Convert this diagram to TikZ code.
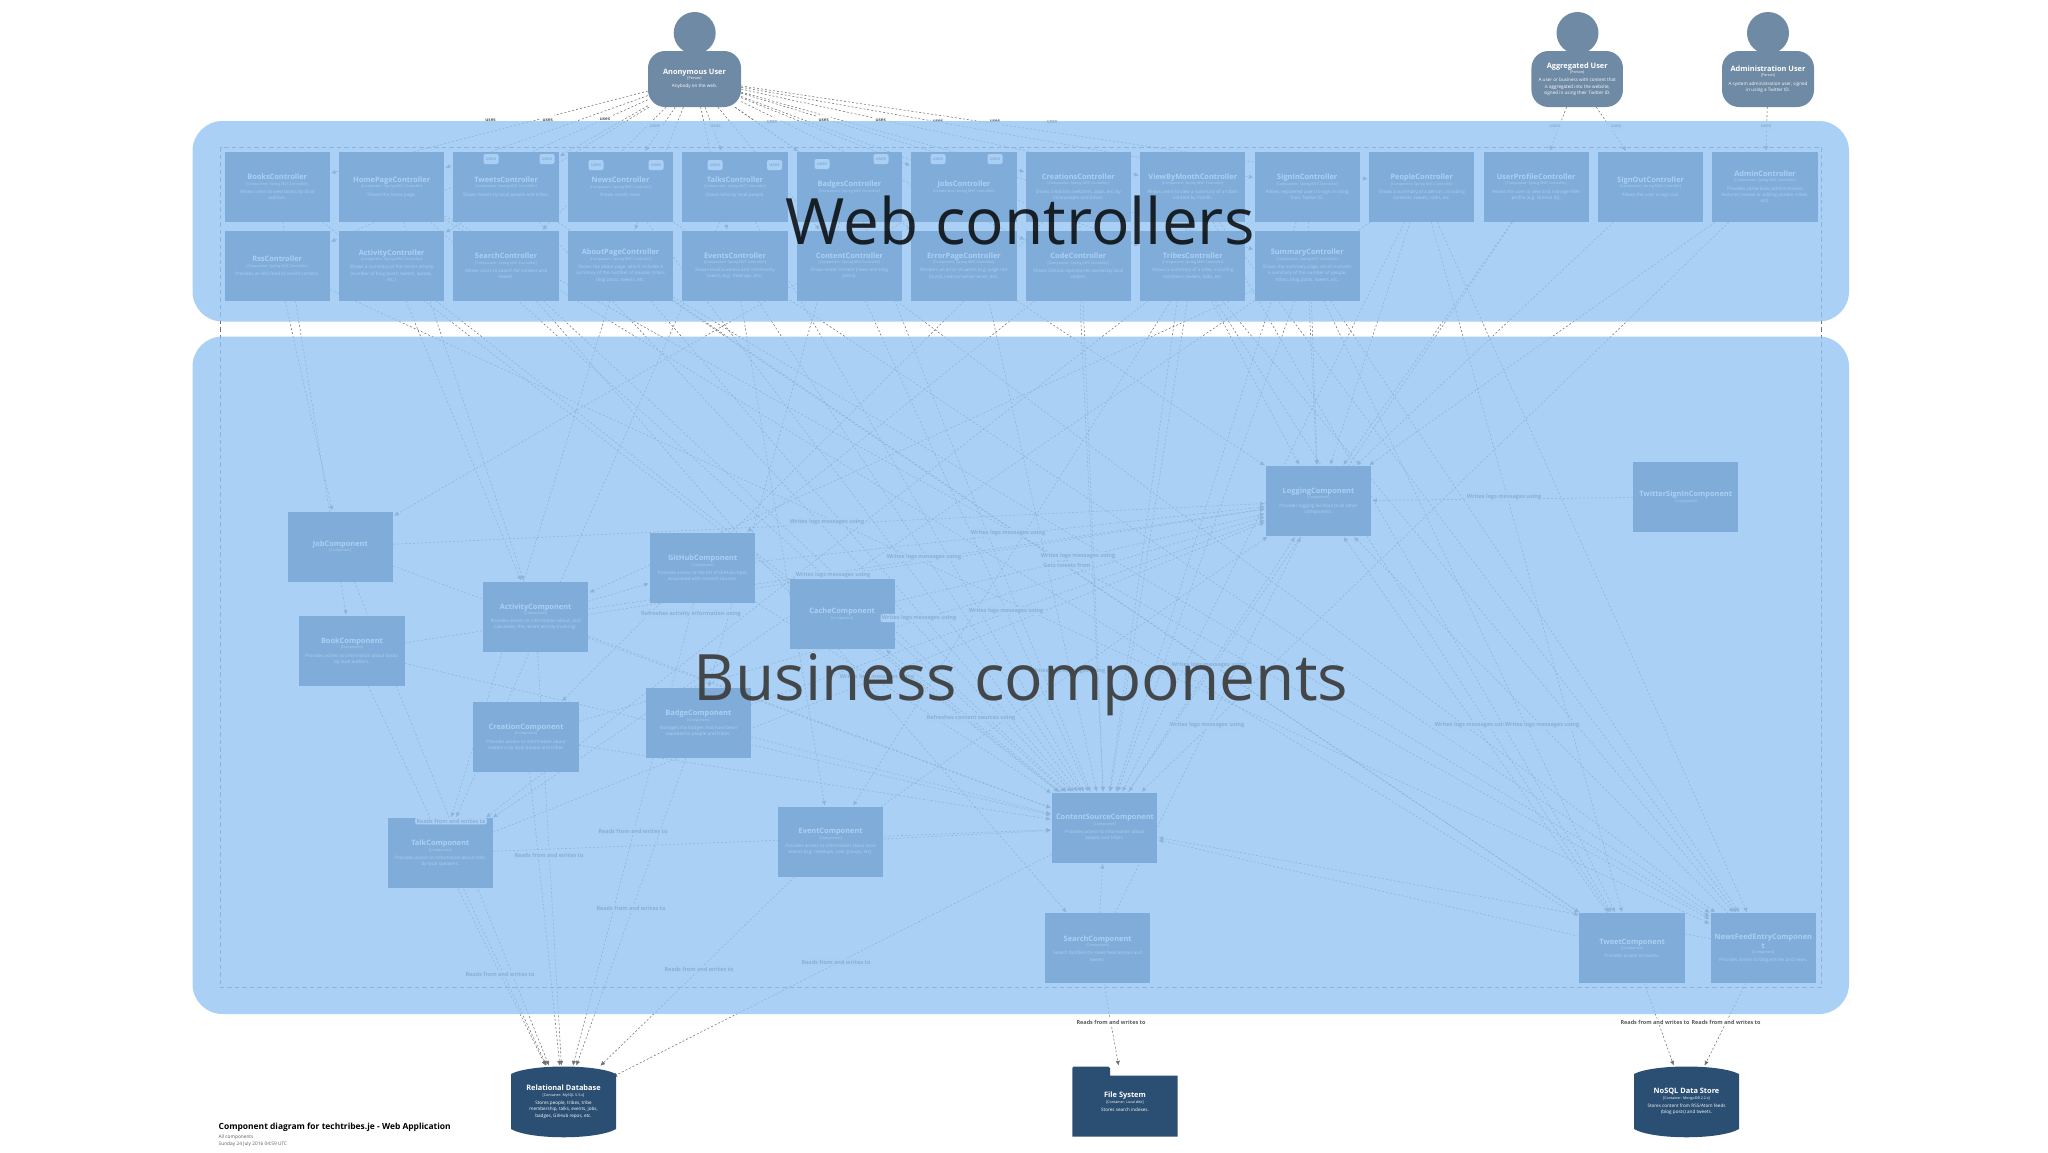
\documentclass[tikz,border=0pt]{standalone}
\usepackage{fontspec}
\setmainfont{Open Sans}
\usetikzlibrary{arrows.meta,shapes.geometric}
\pgfdeclarelayer{lines}\pgfdeclarelayer{labels}\pgfdeclarelayer{bands}\pgfdeclarelayer{top}
\pgfsetlayers{lines,main,labels,bands,top}
\definecolor{boxdark}{HTML}{2B4F73}
\definecolor{persona}{HTML}{6F8AA5}
\definecolor{bandblue}{HTML}{95C4F2}
\definecolor{linkgray}{HTML}{707070}
\definecolor{labgray}{HTML}{5A5A5A}
\definecolor{bustext}{HTML}{3C3C3C}
\newcommand\namef{\fontsize{7.4}{9}\selectfont\bfseries}
\newcommand\subf{\fontsize{3.6}{5.5}\selectfont}
\newcommand\descf{\fontsize{4.6}{6.2}\selectfont}
\newcommand\boxtxt[4][2pt]{\spaceskip=0pt\xspaceskip=0pt\leftskip=0pt plus 1fil\rightskip=0pt plus 1fil\parfillskip=0pt\relax {\namef #2\par}{\subf #3\par}\vskip 2pt{\descf\leftskip=#1 plus 1fil\rightskip=#1 plus 1fil\relax #4\par}}
\tikzset{
  compbox/.style={draw=none,fill=boxdark,text=white,minimum height=70pt,inner sep=0pt,align=center},
  link/.style={draw=linkgray,line width=.55pt,dash pattern=on 2pt off 2pt,-{Latex[length=4.6pt,width=4.4pt]},shorten >=1pt},
  linklab/.style={fill=white,text=labgray,rounded corners=2pt,inner sep=1.3pt,font=\fontsize{5.5}{6.5}\selectfont\bfseries},
  useslab/.style={linklab,font=\fontsize{4.6}{6}\selectfont\bfseries,minimum height=10pt,minimum width=15pt},
  boundary/.style={draw=linkgray,line width=.7pt,dash pattern=on 4.5pt off 3pt},
  band/.style={fill=bandblue,opacity=.8,rounded corners=30pt},
  bigtext/.style={anchor=base,font=\fontsize{64}{70}\selectfont},
  persbody/.style={fill=persona,text=white,rounded corners=17pt,inner sep=0pt,minimum height=56pt,align=center},
  pershead/.style={fill=persona,ellipse,inner sep=0pt,minimum height=42pt},
}
\newcommand\ctrl[5]{\node[compbox,minimum width=105.3pt,text width=95pt] (#1)
  at ({277.2+114.45*#2},{187+78.7*#3}) {\boxtxt{#4}{[Component: Spring MVC Controller]}{#5}};}
\newcommand\comp[6]{\node[compbox,minimum width=#4pt,text width={#4pt-8pt}] (#1) at ({#2+#4/2},{#3+35}) {\boxtxt{#5}{[Component]}{#6}};}
\begin{document}
\begin{tikzpicture}[x=1pt,y=-1pt]
\useasboundingbox (0,0) rectangle (2048,1152);
% people
\node[pershead,minimum width=42pt] (anonh) at (694.7,33) {};
\node[pershead,minimum width=42pt] (aggrh) at (1577.5,33) {};
\node[pershead,minimum width=42pt] (admih) at (1768,33) {};
\node[persbody,minimum width=93pt,text width=86pt] (anon) at (694.5,79) {\boxtxt[3pt]{Anonymous User}{[Person]}{Anybody on the web.}};
\node[persbody,minimum width=91.5pt,text width=86pt] (aggr) at (1577.2,79) {\boxtxt[3pt]{Aggregated User}{[Person]}{A user or business with content that is aggregated into the website, signed in using their Twitter ID.}};
\node[persbody,minimum width=92pt,text width=86pt] (admi) at (1768,79) {\boxtxt[3pt]{Administration User}{[Person]}{A system administration user, signed in using a Twitter ID.}};
% controllers
\ctrl{cBooks}{0}{0}{BooksController}{Allows users to view books by local authors.}
\ctrl{cHome}{1}{0}{HomePageController}{Shows the home page.}
\ctrl{cTweets}{2}{0}{TweetsController}{Shows tweets by local people and tribes.}
\ctrl{cNews}{3}{0}{NewsController}{Shows recent news.}
\ctrl{cTalks}{4}{0}{TalksController}{Shows talks by local people.}
\ctrl{cBadges}{5}{0}{BadgesController}{}
\ctrl{cJobs}{6}{0}{JobsController}{}
\ctrl{cCreations}{7}{0}{CreationsController}{Shows creations (websites, apps, etc) by local people and tribes.}
\ctrl{cMonth}{8}{0}{ViewByMonthController}{Allows users to view a summary of a tribe's content by month.}
\ctrl{cSignIn}{9}{0}{SignInController}{Allows registered users to sign in using their Twitter ID.}
\ctrl{cPeople}{10}{0}{PeopleController}{Shows a summary of a person, including contents, tweets, talks, etc.}
\ctrl{cProfile}{11}{0}{UserProfileController}{Allows the user to view and manage their profile (e.g. GitHub ID).}
\ctrl{cSignOut}{12}{0}{SignOutController}{Allows the user to sign out.}
\ctrl{cAdmin}{13}{0}{AdminController}{Provides some basic administration features (review or adding people, tribes, etc).}
\ctrl{cRss}{0}{1}{RssController}{Provides an RSS feed of recent content.}
\ctrl{cActivity}{1}{1}{ActivityController}{Shows a summary of the recent activity (number of blog posts, tweets, quotes, etc.)}
\ctrl{cSearch}{2}{1}{SearchController}{Allows users to search for content and tweets.}
\ctrl{cAbout}{3}{1}{AboutPageController}{Shows the about page, which includes a summary of the number of people, tribes, blog posts, tweets, etc.}
\ctrl{cEvents}{4}{1}{EventsController}{Shows local business and community events (e.g. meetups, etc).}
\ctrl{cContent}{5}{1}{ContentController}{Show recent content (news and blog posts).}
\ctrl{cError}{6}{1}{ErrorPageController}{Renders an error situation (e.g. page not found, internal server error, etc).}
\ctrl{cCode}{7}{1}{CodeController}{Shows GitHub repositories owned by local coders.}
\ctrl{cTribes}{8}{1}{TribesController}{Shows a summary of a tribe, including members, tweets, talks, etc.}
\ctrl{cSummary}{9}{1}{SummaryController}{Shows the summary page, which includes a summary of the number of people, tribes, blog posts, tweets, etc.}
% components
\comp{Job}{287.7}{511.7}{105.3}{JobComponent}{}
\comp{Book}{299.3}{616}{105.3}{BookComponent}{Provides access to information about books by local authors.}
\comp{Activity}{483}{581.7}{105.3}{ActivityComponent}{Provides access to information about, and calculates, the recent activity (ranking).}
\comp{GitHub}{650}{532.7}{105.3}{GitHubComponent}{Provides access to the list of GitHub repos associated with content sources.}
\comp{Cache}{789.5}{579}{105.3}{CacheComponent}{}
\comp{Creation}{473.4}{702}{105.3}{CreationComponent}{Provides access to information about creations by local people and tribes.}
\comp{Badge}{645.7}{688.3}{105.3}{BadgeComponent}{Manages the badges that have been awarded to people and tribes.}
\comp{Talk}{387.7}{818.3}{105.3}{TalkComponent}{Provides access to information about talks by local speakers.}
\comp{Event}{778}{806.7}{105.3}{EventComponent}{Provides access to information about local events (e.g. meetups, user groups, etc).}
\comp{Source}{1052}{792.7}{105.3}{ContentSourceComponent}{Provides access to information about people and tribes.}
\comp{Search}{1045}{913.3}{105.3}{SearchComponent}{Search facilities for news feed entries and tweets.}
\comp{Logging}{1265.8}{466}{105.3}{LoggingComponent}{Provides logging facilities to all other components.}
\comp{Signin}{1633}{462}{105.3}{TwitterSignInComponent}{}
\comp{Tweet}{1579.4}{913.3}{105.3}{TweetComponent}{Provides access to tweets.}
\comp{News}{1710.6}{913.3}{105.3}{NewsFeedEntryComponen t}{Provides access to blog entries and news.}
% stores
\fill[boxdark] (511,1074) .. controls (530,1064) and (597,1064) .. (616,1074) -- (616,1129) .. controls (597,1140) and (530,1140) .. (511,1129) -- cycle;
\fill[boxdark] (1634,1074) .. controls (1653,1064) and (1720,1064) .. (1739,1074) -- (1739,1129) .. controls (1720,1140) and (1653,1140) .. (1634,1129) -- cycle;
\fill[boxdark] (1072.4,1068) -- ++(1,-1.5) -- (1108,1066.5) -- (1110,1068) -- (1110,1075.5) -- (1177.6,1075.5) -- (1177.6,1136.7) -- (1072.4,1136.7) -- cycle;
\node[text=white,text width=96pt,align=center,inner sep=0pt,minimum height=70pt] (rdb) at (563.5,1101.7) {\boxtxt[9pt]{Relational Database}{[Container: MySQL 5.5.x]}{Stores people, tribes, tribe membership, talks, events, jobs, badges, GitHub repos, etc.}};
\node[text=white,text width=96pt,align=center,inner sep=0pt,minimum height=70pt] (files) at (1125,1101.7) {\boxtxt[9pt]{File System}{[Container: Local disk]}{Stores search indexes.}};
\node[text=white,text width=96pt,align=center,inner sep=0pt,minimum height=70pt] (nosql) at (1686.5,1101.7) {\boxtxt[9pt]{NoSQL Data Store}{[Container: MongoDB 2.2.x]}{Stores content from RSS/Atom feeds (blog posts) and tweets.}};
% title
\node[anchor=west,inner sep=0pt,font=\fontsize{8.45}{10}\selectfont\bfseries] (title) at (218.5,1127.7) {Component diagram for techtribes.je - Web Application};
\node[anchor=west,inner sep=0pt,text=labgray,font=\fontsize{4.8}{6}\selectfont] (subtitle) at (218.5,1137) {All components};
\node[anchor=west,inner sep=0pt,text=labgray,font=\fontsize{4.8}{6}\selectfont] (datel) at (218.5,1144) {Sunday 24 July 2016 04:59 UTC};
\begin{pgfonlayer}{lines}
\coordinate (bnw) at (220.5,147); \coordinate (bse) at (1821.5,987.7);
\draw[boundary] (bnw) rectangle (bse);
\foreach \s/\t in {anon/cBooks,anon/cHome,anon/cTweets,anon/cNews,anon/cTalks,anon/cBadges,anon/cJobs,anon/cCreations,anon/cMonth,anon/cSignIn,anon/cRss,anon/cActivity,anon/cSearch,anon/cAbout,anon/cEvents,anon/cContent,anon/cError,anon/cCode,anon/cTribes,anon/cSummary,anon/cPeople,aggr/cProfile,aggr/cSignOut,admi/cAdmin,
 cBooks/Book,cBooks/Source,cHome/Activity,cHome/Source,cHome/News,cHome/Tweet,cTweets/Tweet,cTweets/Source,cNews/News,cNews/Source,cTalks/Talk,cTalks/Source,cBadges/Badge,cBadges/Source,cJobs/Job,cJobs/Source,cCreations/Creation,cCreations/Source,cMonth/News,cMonth/Tweet,cMonth/Source,cSignIn/Source,cSignIn/Logging,cPeople/Source,cPeople/News,cPeople/Tweet,cPeople/Talk,cPeople/Logging,cProfile/Source,cProfile/Logging,cSignOut/Logging,cAdmin/Source,cAdmin/Logging,cRss/Job,cRss/News,cActivity/Activity,cActivity/Source,cSearch/Search,cSearch/Source,cAbout/Source,cAbout/News,cAbout/Tweet,cAbout/Talk,cEvents/Event,cEvents/Source,cContent/News,cContent/Source,cError/Logging,cCode/GitHub,cCode/Source,cTribes/Source,cTribes/Talk,cTribes/Event,cTribes/Tweet,cTribes/News,cTribes/Logging,cSummary/Source,cSummary/Tweet,cSummary/News,cSummary/Activity,cSummary/Logging,
 Job/Logging,Book/Logging,Activity/Logging,GitHub/Logging,Cache/Logging,Creation/Logging,Badge/Logging,Talk/Logging,Event/Logging,Source/Logging,Search/Logging,Tweet/Logging,News/Logging,Signin/Logging,
 Job/Source,Book/Source,Activity/Source,GitHub/Source,Creation/Source,Badge/Source,Talk/Source,Event/Source,Search/Source,Tweet/Source,News/Source,Source/Cache,Activity/GitHub,
 Job/rdb,Book/rdb,Talk/rdb,Creation/rdb,Activity/rdb,Event/rdb,Badge/rdb,GitHub/rdb,Source/rdb,Search/files,Tweet/nosql,News/nosql}
  \draw[link] (\s) -- (\t);
\end{pgfonlayer}
\begin{pgfonlayer}{labels}
\foreach \lx/\ly [count=\n] in {490.6/120.7,547.8/120,605/119.3,655/126,715.6/126,772/122.3,823.7/120,880.8/120.7,938/121,995/121,1052/122,1555/126,1616/126,1766/126,491/159,547/159,596/165,656/165,715/165,774.5/165,822/164,881/159,938/159,995/159}
  \node[useslab] (uses\n) at (\lx,\ly) {uses};
\foreach \lx/\ly/\lt [count=\n] in {827/522/Writes logs messages using,1008/533/Writes logs messages using,924/557/Writes logs messages using,833/575/Writes logs messages using,919/618/Writes logs messages using,1006/611/Writes logs messages using,1078/556/Writes logs messages using,1067/565/Gets tweets from,691/614/Refreshes activity information using,877/677/Writes logs messages using,1068/671/Writes logs messages using,971/718/Refreshes content sources using,1504/497/Writes logs messages using,1209/665/Writes logs messages using,1207/725/Writes logs messages using,1472/725/Writes logs messages using,1542/725/Writes logs messages using,451/821/Reads from and writes to,633/831/Reads from and writes to,549/855.7/Reads from and writes to,631/908/Reads from and writes to,500/974/Reads from and writes to,699/969/Reads from and writes to,836/962/Reads from and writes to,1111/1022/Reads from and writes to,1655/1022/Reads from and writes to,1726/1022/Reads from and writes to}
  \node[linklab] (lab\n) at (\lx,\ly) {\lt};
\end{pgfonlayer}
\begin{pgfonlayer}{bands}
\fill[band] (192.5,121) rectangle (1849,321.5) ;
\fill[band] (192.5,336.5) rectangle (1849,1014);
\end{pgfonlayer}
\begin{pgfonlayer}{top}
\node[bigtext,text=black,text opacity=.82] (webt) at (1020,244) {Web controllers};
\node[bigtext,text=bustext,text opacity=.92] (bust) at (1021,700) {Business components};
\end{pgfonlayer}
\end{tikzpicture}
\end{document}
